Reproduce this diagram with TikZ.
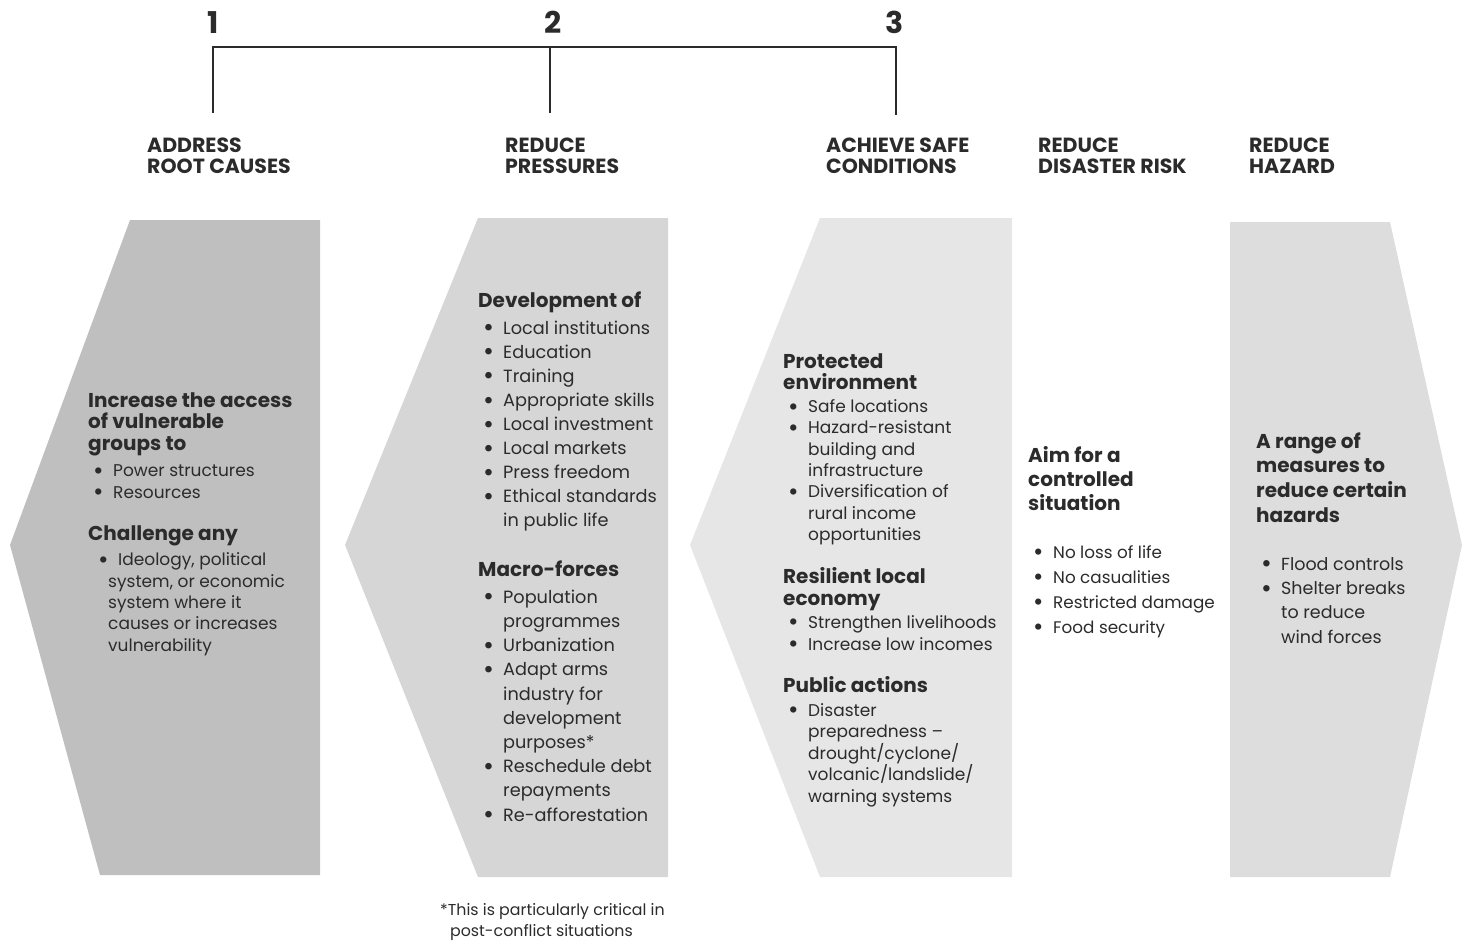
\documentclass[tikz,border=0pt]{standalone}
\usepackage{fontspec}
\setmainfont{Poppins}
\definecolor{ink}{HTML}{2B2B2B}
\definecolor{fillA}{HTML}{BFBFBF}
\definecolor{fillB}{HTML}{D6D6D6}
\definecolor{fillC}{HTML}{E6E6E6}
\definecolor{fillE}{HTML}{DDDDDD}
\newcommand\blk[2]{\parbox[t]{#1}{\raggedright #2}}
\newcommand\dotb{\raisebox{-2.6pt}{\scalebox{1.5}{\textbullet}}}
\newcommand\bl[1]{\hspace*{5pt}\makebox[20pt][l]{\dotb}#1}
\newcommand\ct[1]{\hspace*{25pt}#1}
\newcommand\bh[1]{{\fontsize{20}{20}\selectfont\bfseries #1}}
\begin{document}
\begin{tikzpicture}[x=1pt,y=-1pt,
  txt/.style={anchor=base west, inner sep=0pt, text=ink},
  hdr/.style={txt, font=\fontsize{20.5}{21}\selectfont\bfseries},
  num/.style={anchor=base, inner sep=0pt, text=ink, font=\fontsize{30}{30}\selectfont\bfseries},
  bracket/.style={draw=ink, line width=1.1pt}]
\useasboundingbox (0,0) rectangle (1470,945);

% panels
\fill[fillA] (130,220) -- (320,220) -- (320,875) -- (100,875) -- (10,545) -- cycle;
\fill[fillB] (478,218) -- (668,218) -- (668,877) -- (478,877) -- (345,545) -- cycle;
\fill[fillC] (820,218) -- (1012,218) -- (1012,877) -- (820,877) -- (690,545) -- cycle;
\fill[fillE] (1230,222) -- (1390,222) -- (1462,545) -- (1390,877) -- (1230,877) -- cycle;

% numbers and bracket
\node[num] (n1) at (213,33) {1};
\node[num] (n2) at (553,33) {2};
\node[num] (n3) at (895,33) {3};
\coordinate (t1) at (213,47);
\coordinate (t2) at (550,47);
\coordinate (t3) at (896,47);
\coordinate (b1) at (213,113);
\coordinate (b2) at (550,113);
\coordinate (b3) at (896,115);
\draw[bracket] (b1) -- (t1) -- (t3) -- (b3);
\draw[bracket] (t2) -- (b2);

% headers
\node[hdr] (h1) at (147,152) {\blk{200pt}{ADDRESS\\ROOT CAUSES}};
\node[hdr] (h2) at (505,152) {\blk{200pt}{REDUCE\\PRESSURES}};
\node[hdr] (h3) at (826,152) {\blk{200pt}{ACHIEVE SAFE\\CONDITIONS}};
\node[hdr] (h4) at (1038,152) {\blk{200pt}{REDUCE\\DISASTER RISK}};
\node[hdr] (h5) at (1249,152) {\blk{200pt}{REDUCE\\HAZARD}};

% panel 1
\node[txt, font=\fontsize{17}{21.5}\selectfont] (s1a) at (88,407) {\blk{240pt}{%
\bh{Increase the access}\\ \bh{of vulnerable}\\ \bh{groups to}\\[5pt]
\bl{Power structures}\\ \bl{Resources}}};
\node[txt, font=\fontsize{17}{21.3}\selectfont] (s1b) at (88,540) {\blk{240pt}{%
\bh{Challenge any}\\[4.5pt]
\hspace*{10pt}\makebox[20pt][l]{\dotb}Ideology, political\\
\hspace*{20pt}system, or economic\\
\hspace*{20pt}system where it\\
\hspace*{20pt}causes or increases\\
\hspace*{20pt}vulnerability}};

% panel 2
\node[txt, font=\fontsize{17.7}{24.1}\selectfont] (s2a) at (478,307) {\blk{240pt}{%
\bh{Development of}\\[3pt]
\bl{Local institutions}\\ \bl{Education}\\ \bl{Training}\\ \bl{Appropriate skills}\\
\bl{Local investment}\\ \bl{Local markets}\\ \bl{Press freedom}\\ \bl{Ethical standards}\\
\ct{in public life}}};
\node[txt, font=\fontsize{17.7}{24.2}\selectfont] (s2b) at (478,576) {\blk{240pt}{%
\bh{Macro-forces}\\[3pt]
\bl{Population}\\ \ct{programmes}\\ \bl{Urbanization}\\ \bl{Adapt arms}\\
\ct{industry for}\\ \ct{development}\\ \ct{purposes*}\\ \bl{Reschedule debt}\\
\ct{repayments}\\ \bl{Re-afforestation}}};

% panel 3
\node[txt, font=\fontsize{17}{21.3}\selectfont] (s3a) at (783,368) {\blk{240pt}{%
\bh{Protected}\\ \bh{environment}\\[2pt]
\bl{Safe locations}\\ \bl{Hazard-resistant}\\ \ct{building and}\\ \ct{infrastructure}\\
\bl{Diversification of}\\ \ct{rural income}\\ \ct{opportunities}}};
\node[txt, font=\fontsize{17}{22}\selectfont] (s3b) at (783,583) {\blk{240pt}{%
\bh{Resilient local}\\ \bh{economy}\\[1pt]
\bl{Strengthen livelihoods}\\ \bl{Increase low incomes}}};
\node[txt, font=\fontsize{17}{21.5}\selectfont] (s3c) at (783,692) {\blk{240pt}{%
\bh{Public actions}\\[2.5pt]
\bl{Disaster}\\ \ct{preparedness –}\\ \ct{drought/cyclone/}\\ \ct{volcanic/landslide/}\\
\ct{warning systems}}};

% column 4
\node[txt, font=\fontsize{18}{24}\selectfont] (s4a) at (1028,462) {\blk{200pt}{%
\bh{Aim for a}\\ \bh{controlled}\\ \bh{situation}}};
\node[txt, font=\fontsize{16.8}{25}\selectfont] (s4b) at (1028,558) {\blk{220pt}{%
\bl{No loss of life}\\ \bl{No casualities}\\ \bl{Restricted damage}\\ \bl{Food security}}};

% column 5
\node[txt, font=\fontsize{18}{24.7}\selectfont] (s5a) at (1256,448) {\blk{200pt}{%
\bh{A range of}\\ \bh{measures to}\\ \bh{reduce certain}\\ \bh{hazards}}};
\node[txt, font=\fontsize{17.5}{24.4}\selectfont] (s5b) at (1256,570) {\blk{200pt}{%
\bl{Flood controls}\\ \bl{Shelter breaks}\\ \ct{to reduce}\\ \ct{wind forces}}};

% footnote
\node[txt, font=\fontsize{15.8}{21}\selectfont] (fn) at (440,915) {\blk{280pt}{%
*This is particularly critical in\\ \hspace*{10pt}post-conflict situations}};
\end{tikzpicture}
\end{document}
